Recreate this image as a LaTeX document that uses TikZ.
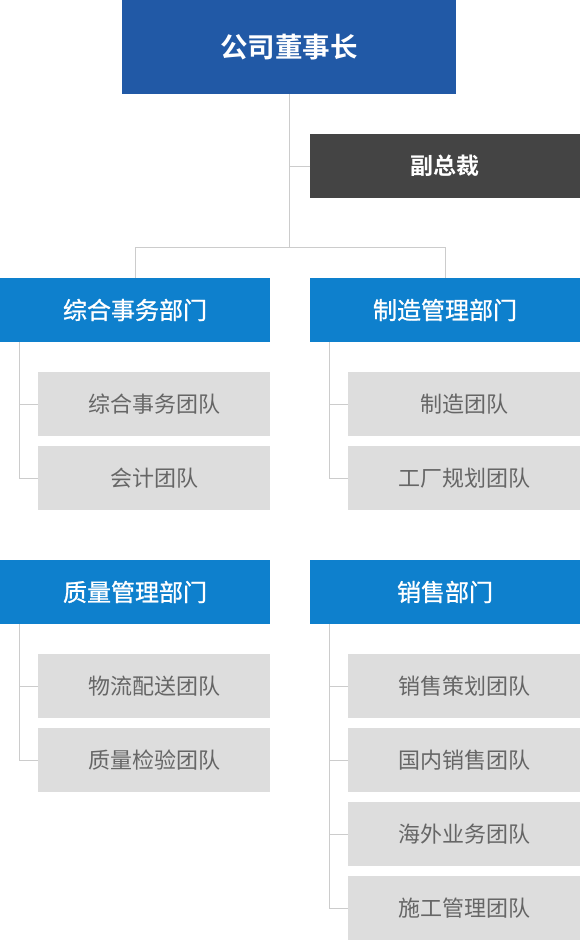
\documentclass[tikz,border=0pt]{standalone}
\usepackage{fontspec}
\setmainfont{Noto Sans CJK SC}
\newfontfamily\cjkb{Noto Sans CJK SC Bold}
\newfontfamily\cjkm[FakeBold=1]{Noto Sans CJK SC}
\definecolor{ceoblue}{HTML}{2159A6}
\definecolor{deptblue}{HTML}{0E80CD}
\definecolor{vpgray}{HTML}{444444}
\definecolor{teamgray}{HTML}{DDDDDD}
\definecolor{teamtext}{HTML}{666666}
\definecolor{linegray}{HTML}{CCCCCC}
\begin{document}
\begin{tikzpicture}[x=1pt,y=-1pt,
  box/.style={anchor=north west,inner sep=0,outer sep=0,draw=none},
  ceobox/.style={box,fill=ceoblue,minimum width=334pt,minimum height=94pt,text=white,font=\cjkb\fontsize{27.5}{27.5}\selectfont},
  vpbox/.style={box,fill=vpgray,minimum width=270pt,minimum height=64pt,text=white,font=\cjkb\fontsize{23}{23}\selectfont},
  deptbox/.style={box,fill=deptblue,minimum width=270pt,minimum height=64pt,text=white,font=\cjkm\fontsize{24}{24}\selectfont},
  teambox/.style={box,fill=teamgray,minimum width=232pt,minimum height=64pt,text=teamtext,font=\fontsize{22}{22}\selectfont},
  conn/.style={draw=linegray,line width=1pt}]
\useasboundingbox (0,0) rectangle (580,940);
\node[ceobox] (ceo) at (122,0) {公司董事长};
\node[vpbox] (vp) at (310,134) {副总裁};
\node[deptbox] (d1) at (0,278) {综合事务部门};
\node[deptbox] (d2) at (310,278) {制造管理部门};
\node[deptbox] (d3) at (0,560) {质量管理部门};
\node[deptbox] (d4) at (310,560) {销售部门};
\node[teambox] (t11) at (38,372) {综合事务团队};
\node[teambox] (t12) at (38,446) {会计团队};
\node[teambox] (t21) at (348,372) {制造团队};
\node[teambox] (t22) at (348,446) {工厂规划团队};
\node[teambox] (t31) at (38,654) {物流配送团队};
\node[teambox] (t32) at (38,728) {质量检验团队};
\node[teambox] (t41) at (348,654) {销售策划团队};
\node[teambox] (t42) at (348,728) {国内销售团队};
\node[teambox] (t43) at (348,802) {海外业务团队};
\node[teambox] (t44) at (348,876) {施工管理团队};
\coordinate (j) at (289.5,247.5);
\coordinate (b1) at (19.5,342);
\coordinate (b2) at (329.5,342);
\coordinate (b3) at (19.5,624);
\coordinate (b4) at (329.5,624);
\draw[conn] (ceo.south -| j) -- (j);
\draw[conn] (vp.west) -- (vp.west -| j);
\draw[conn] (d1.north) |- (j) -| (d2.north);
\draw[conn] (b1) |- (t12.west);
\draw[conn] (t11.west) -- (t11.west -| b1);
\draw[conn] (b2) |- (t22.west);
\draw[conn] (t21.west) -- (t21.west -| b2);
\draw[conn] (b3) |- (t32.west);
\draw[conn] (t31.west) -- (t31.west -| b3);
\draw[conn] (b4) |- (t44.west);
\draw[conn] (t41.west) -- (t41.west -| b4);
\draw[conn] (t42.west) -- (t42.west -| b4);
\draw[conn] (t43.west) -- (t43.west -| b4);
\end{tikzpicture}
\end{document}
